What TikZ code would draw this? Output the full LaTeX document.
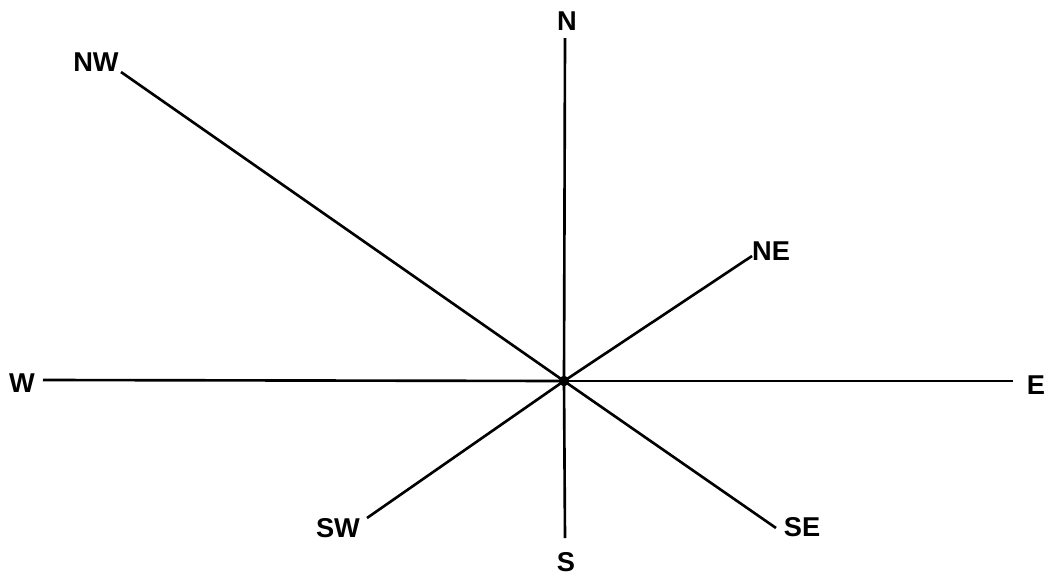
\documentclass[tikz,border=0pt]{standalone}
\usepackage{fontspec}
\setmainfont{Liberation Sans}
\begin{document}
\begin{tikzpicture}[x=0.02cm,y=-0.02cm,font=\fontsize{15.5}{18}\selectfont\bfseries,
  ray/.style={line width=1.5pt}]
\useasboundingbox (0,0) rectangle (1045,575);
\node[circle,fill,inner sep=0pt,minimum size=6pt] (c) at (564,381) {};
% labels
\node (n) at (567,21) {N};
\node (ne) at (771,251) {NE};
\node (e) at (1036,385) {E};
\node (se) at (802,527) {SE};
\node (s) at (566,562) {S};
\node (sw) at (338,528) {SW};
\node (w) at (22,383) {W};
\node (nw) at (96,62) {NW};
% free ends of the rays
\coordinate (n end) at (565,38);
\coordinate (ne end) at (752,256);
\coordinate (e end) at (1013,381);
\coordinate (se end) at (776,528);
\coordinate (s end) at (565,538);
\coordinate (sw end) at (367,518);
\coordinate (w end) at (43,380);
\coordinate (nw end) at (121,72);
\foreach \d in {n,ne,e,se,s,sw,w,nw}
  \draw[ray] (c.center) -- (\d\space end);
\end{tikzpicture}
\end{document}
